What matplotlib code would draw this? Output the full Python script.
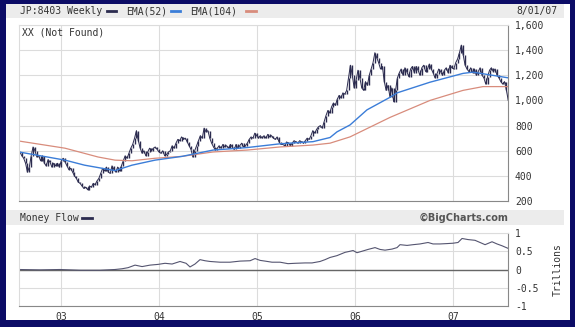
import numpy as np
import pandas as pd
import matplotlib
matplotlib.use('Agg')
import matplotlib.pyplot as plt

# weekly closes, JP:8403, 2002-08-01 .. 2007-07-26
close = [590, 560, 540, 500, 430, 470, 560, 630, 600, 550,
         560, 520, 560, 500, 480, 530, 510, 470, 500, 480,
         500, 470, 520, 540, 510, 480, 450, 460, 430, 400,
         380, 350, 340, 320, 300, 310, 290, 320, 310, 340,
         330, 360, 380, 420, 460, 440, 470, 430, 420, 480,
         450, 430, 470, 440, 480, 520, 560, 540, 580, 620,
         650, 700, 760, 680, 620, 580, 600, 560, 590, 620,
         600, 620, 630, 610, 590, 580, 600, 560, 570, 590,
         600, 640, 620, 660, 690, 680, 710, 690, 700, 670,
         640, 610, 550, 600, 640, 680, 720, 700, 780, 750,
         760, 700, 660, 630, 605, 620, 640, 620, 650, 630,
         640, 620, 650, 630, 610, 650, 620, 640, 660, 630,
         640, 660, 690, 710, 700, 740, 720, 700, 720, 700,
         720, 700, 730, 710, 720, 700, 690, 710, 670, 650,
         650, 640, 670, 660, 640, 660, 680, 670, 660, 680,
         670, 660, 680, 700, 690, 720, 760, 740, 770, 790,
         800, 780, 830, 880, 920, 900, 950, 980, 960, 1010,
         1040, 1020, 1060, 1050, 1080, 1180, 1280, 1200, 1100, 1160,
         1240, 1180, 1100, 1080, 1150, 1120, 1200, 1250, 1300, 1380,
         1340, 1300, 1250, 1270, 1150, 1080, 1120, 1030, 1100, 990,
         1080, 1180, 1220, 1250, 1200, 1260, 1230, 1190, 1250, 1270,
         1220, 1270, 1240, 1200, 1260, 1280, 1230, 1250, 1290, 1250,
         1220, 1180, 1210, 1250, 1230, 1200, 1240, 1260, 1220, 1280,
         1260, 1250, 1300, 1330, 1380, 1440, 1360, 1280, 1250, 1230,
         1260, 1220, 1250, 1200, 1230, 1260, 1200, 1180, 1130, 1190,
         1240, 1260, 1230, 1250, 1200, 1180, 1150, 1130, 1150, 1080, 1000]

# EMA lines (decimal year, value)
ema52_t = [2002.571, 2003.041, 2003.24, 2003.551, 2003.724, 2003.959, 2004.235,
           2004.551, 2004.898, 2005.235, 2005.571, 2005.745, 2005.816, 2005.949,
           2006.122, 2006.357, 2006.429, 2006.765, 2007.102, 2007.204, 2007.561]
ema52_v = [590, 525, 485, 442, 485, 525, 555, 605, 625, 655, 672, 705, 750, 805,
           925, 1025, 1060, 1145, 1215, 1225, 1180]
ema104_t = [2002.571, 2003.041, 2003.378, 2003.551, 2003.724, 2003.959, 2004.235,
            2004.551, 2004.898, 2005.235, 2005.571, 2005.745, 2005.949, 2006.357,
            2006.765, 2007.102, 2007.306, 2007.561]
ema104_v = [677, 620, 550, 525, 520, 540, 555, 590, 605, 630, 645, 660, 710, 865,
            1000, 1080, 1110, 1110]

# money flow (trillions)
mf_t = [2002.571, 2002.786, 2002.990, 2003.194, 2003.398, 2003.551, 2003.622, 2003.684,
        2003.755, 2003.827, 2003.908, 2003.990, 2004.061, 2004.133, 2004.214, 2004.276,
        2004.316, 2004.367, 2004.418, 2004.469, 2004.520, 2004.622, 2004.724, 2004.827,
        2004.929, 2004.980, 2005.031, 2005.082, 2005.153, 2005.235, 2005.316, 2005.388,
        2005.490, 2005.561, 2005.643, 2005.694, 2005.745, 2005.816, 2005.898, 2005.949,
        2005.980, 2006.020, 2006.071, 2006.133, 2006.204, 2006.255, 2006.306, 2006.378,
        2006.429, 2006.459, 2006.531, 2006.592, 2006.663, 2006.745, 2006.796, 2006.867,
        2006.939, 2007.000, 2007.051, 2007.092, 2007.153, 2007.224, 2007.276, 2007.327,
        2007.398, 2007.449, 2007.500, 2007.561]
mf_v = [0, -0.01, 0, -0.02, -0.02, 0, 0.02, 0.05,
        0.12, 0.08, 0.12, 0.14, 0.17, 0.15, 0.22, 0.17,
        0.07, 0.15, 0.27, 0.24, 0.22, 0.2, 0.2, 0.23,
        0.24, 0.3, 0.25, 0.23, 0.2, 0.2, 0.16, 0.17,
        0.18, 0.18, 0.22, 0.27, 0.33, 0.38, 0.47, 0.5,
        0.52, 0.46, 0.5, 0.55, 0.6, 0.55, 0.53, 0.56,
        0.6, 0.68, 0.66, 0.68, 0.7, 0.74, 0.7, 0.7,
        0.71, 0.72, 0.74, 0.85, 0.82, 0.8, 0.74, 0.68,
        0.76, 0.7, 0.65, 0.58]

year_ticks = [2003, 2004, 2005, 2006, 2007]
year_labels = ['03', '04', '05', '06', '07']
price_ticks = [200, 400, 600, 800, 1000, 1200, 1400, 1600]
mf_ticks = [-1, -0.5, 0, 0.5, 1]
mf_labels = ['-1', '-0.5', '0', '0.5', '1']

dates = pd.date_range('2002-08-01', periods=len(close), freq='7D')
t = dates.year + (dates.dayofyear - 1) / 365.25
c = np.array(close)
prev = np.r_[c[0], c[:-1]]
lo = np.minimum(prev, c)
hi = np.maximum(prev, c)

plt.rcParams['font.family'] = ['DejaVu Sans Mono']
navy = '#0c0c66'
bar = '#2b2b4f'
grid = '#dcdcdc'
txt = '#333333'
fs = 7
xlim = (2002.571, 2007.561)

fig = plt.figure(figsize=(5.75, 3.27), dpi=100)
fig.patch.set_facecolor(navy)
# inner white panel and header bands
fig.add_artist(plt.Rectangle((6/575, 1 - 320/327), 564/575, 316/327, zorder=-10,
                             transform=fig.transFigure, fc='white', ec='none'))
fig.add_artist(plt.Rectangle((6/575, 1 - 18/327), 558/575, 14/327, zorder=-9,
                             transform=fig.transFigure, fc='#ececec', ec='none'))
fig.add_artist(plt.Rectangle((6/575, 1 - 225/327), 558/575, 15/327, zorder=-9,
                             transform=fig.transFigure, fc='#ececec', ec='none'))

ax = fig.add_axes([19/575, 1 - 201/327, 489/575, 176/327])
ax.set_facecolor('white')
ax.vlines(t, lo, hi, color=bar, lw=1.0)
ax.plot(t, close, color=bar, lw=0.7)
ax.plot(ema104_t, ema104_v, color='#d88c7c', lw=0.9)
ax.plot(ema52_t, ema52_v, color='#3b7dd8', lw=1.0)
ax.set_xlim(*xlim)
ax.set_ylim(200, 1600)
ax.set_xticks(year_ticks)
ax.set_xticklabels([])
ax.set_yticks(price_ticks)
ax.set_yticklabels(['{:,}'.format(v) for v in price_ticks])
ax.yaxis.tick_right()
ax.tick_params(axis='y', length=0, pad=5, labelsize=fs, labelcolor=txt)
ax.tick_params(axis='x', length=0)
ax.grid(True, color=grid, lw=0.8)
ax.set_axisbelow(True)
for s in ['top', 'left']:
    ax.spines[s].set_color(grid)
for s in ['bottom', 'right']:
    ax.spines[s].set_color('#888888')
ax.text(0.006, 0.985, 'XX (Not Found)', transform=ax.transAxes, fontsize=fs,
        color=txt, va='top')

ax2 = fig.add_axes([19/575, 1 - 306/327, 489/575, 73/327])
ax2.set_facecolor('white')
ax2.axhline(0, color='#666666', lw=1.0)
ax2.plot(mf_t, mf_v, color='#555570', lw=0.8)
ax2.set_xlim(*xlim)
ax2.set_ylim(-1, 1)
ax2.set_xticks(year_ticks)
ax2.set_xticklabels(year_labels)
ax2.set_yticks(mf_ticks)
ax2.set_yticklabels(mf_labels)
ax2.yaxis.tick_right()
ax2.tick_params(axis='y', length=0, pad=5, labelsize=fs, labelcolor=txt)
ax2.tick_params(axis='x', length=0, pad=4, labelsize=fs, labelcolor=txt)
ax2.grid(True, color=grid, lw=0.8)
ax2.set_axisbelow(True)
for s in ['top', 'left']:
    ax2.spines[s].set_color(grid)
for s in ['bottom', 'right']:
    ax2.spines[s].set_color('#888888')
ax2.yaxis.set_label_position('right')
ax2.set_ylabel('Trillions', fontsize=fs, color=txt, labelpad=10)

# header texts
fig.text(20/575, 1 - 11/327, 'JP:8403 Weekly', fontsize=fs, color=txt, va='center')
fig.add_artist(plt.Line2D([107/575, 116/575], [1 - 11/327] * 2, color=bar, lw=2))
fig.text(126/575, 1 - 11/327, 'EMA(52)', fontsize=fs, color=txt, va='center')
fig.add_artist(plt.Line2D([171/575, 180/575], [1 - 11/327] * 2, color='#3b7dd8', lw=2))
fig.text(190/575, 1 - 11/327, 'EMA(104)', fontsize=fs, color=txt, va='center')
fig.add_artist(plt.Line2D([246/575, 256/575], [1 - 11/327] * 2, color='#d88c7c', lw=2))
fig.text(516/575, 1 - 11/327, '8/01/07', fontsize=fs, color=txt, va='center')
fig.text(20/575, 1 - 218/327, 'Money Flow', fontsize=fs, color=txt, va='center')
fig.add_artist(plt.Line2D([82/575, 92/575], [1 - 218/327] * 2, color=bar, lw=2))
fig.text(508/575, 1 - 218/327, '\u00a9BigCharts.com', fontsize=fs, color='#555555',
         family='DejaVu Sans', fontweight='bold', va='center', ha='right')

fig.savefig('out.png', dpi=100, facecolor=fig.get_facecolor())
